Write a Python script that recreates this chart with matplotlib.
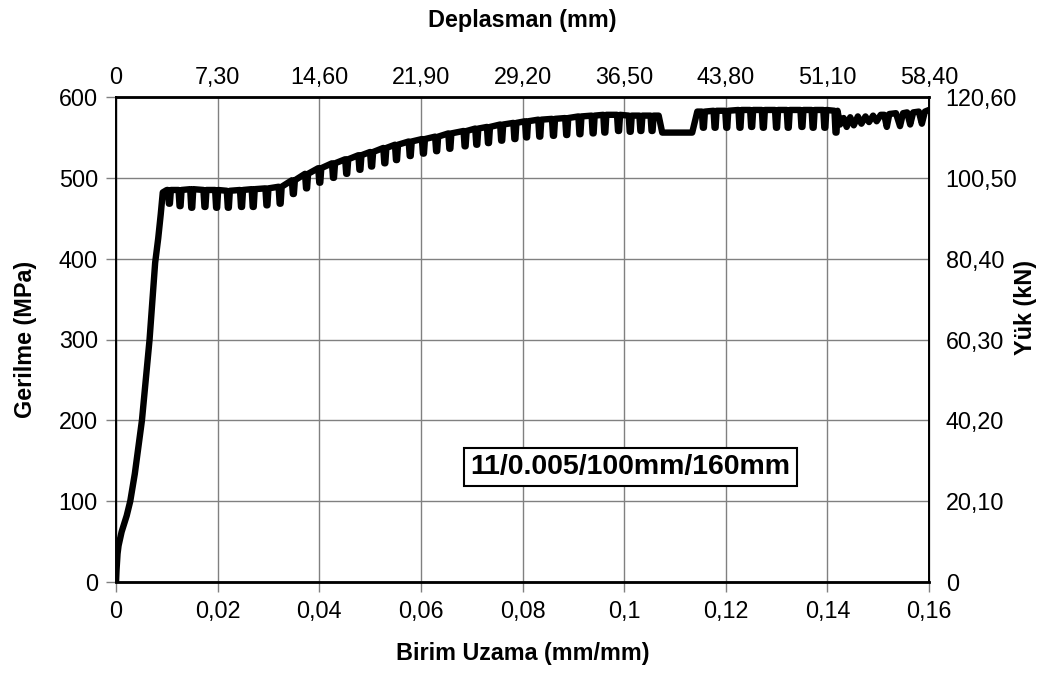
import numpy as np
import matplotlib
matplotlib.use('Agg')
import matplotlib.pyplot as plt

plt.rcParams['font.family'] = ['Liberation Sans', 'DejaVu Sans']

# Elastik bölge (birim uzama, gerilme MPa)
elastik_uzama = [0.0, 0.0001, 0.0003, 0.0005, 0.0011, 0.0021, 0.0028, 0.0037,
                 0.0051, 0.0066, 0.0077, 0.0083, 0.0088, 0.0092, 0.0100]
elastik_gerilme = [0, 15, 35, 45, 62, 82, 100, 134, 200, 300, 395, 425, 455, 482, 485]

# Tırtıklı bölge 1: tırtık yeri, tepe ve dip gerilmesi
tirtik_uzama_1 = [0.0105, 0.0126, 0.0149, 0.0175, 0.0198, 0.0221, 0.0247, 0.0270,
                  0.0297, 0.0323, 0.0349, 0.0375, 0.0401, 0.0428, 0.0454, 0.0480,
                  0.0503, 0.0529, 0.0552, 0.0579, 0.0605, 0.0631, 0.0657, 0.0687,
                  0.0710, 0.0733, 0.0759, 0.0785, 0.0808, 0.0834, 0.0861, 0.0887,
                  0.0913, 0.0939, 0.0962, 0.0989, 0.1012, 0.1033, 0.1055]
tirtik_tepe_1 = [485, 485, 486, 485, 485, 484, 485, 486,
                 487, 489, 497, 505, 512, 518, 523, 528,
                 532, 537, 541, 545, 548, 551, 555, 558,
                 561, 563, 566, 568, 570, 572, 573, 574,
                 576, 577, 578, 578, 577, 577, 577]
tirtik_dip_1 = [468, 465, 463, 464, 463, 463, 464, 464,
                466, 468, 480, 487, 494, 500, 505, 510,
                514, 518, 522, 527, 530, 533, 536, 539,
                541, 543, 546, 548, 550, 551, 552, 553,
                554, 555, 556, 558, 557, 558, 558]

# Düz bölge
duz_uzama = [0.1068, 0.1075, 0.1134, 0.1144]
duz_gerilme = [577, 556, 556, 582]

# Tırtıklı bölge 2
tirtik_uzama_2 = [0.1156, 0.1179, 0.1202, 0.1228, 0.1251, 0.1274, 0.1300,
                  0.1323, 0.1350, 0.1372, 0.1395, 0.1417]
tirtik_tepe_2 = [582, 583, 583, 584, 584, 584, 584, 584, 584, 584, 584, 583]
tirtik_dip_2 = [562, 562, 562, 562, 563, 562, 562, 562, 563, 562, 562, 556]

# Son bölge
son_uzama = [0.1425, 0.1432, 0.1438, 0.1445, 0.1452, 0.1460, 0.1467, 0.1475,
             0.1482, 0.1490, 0.1497, 0.1505, 0.1512, 0.1517, 0.1522, 0.1535,
             0.1543, 0.1549, 0.1557, 0.1563, 0.1569, 0.1580, 0.1586, 0.1592, 0.1600]
son_gerilme = [566, 574, 563, 575, 565, 576, 567, 576, 569, 577, 570, 578,
               578, 563, 579, 580, 564, 580, 581, 566, 581, 582, 567, 582, 584]

x_ticks = [0, 0.02, 0.04, 0.06, 0.08, 0.10, 0.12, 0.14, 0.16]
x_etiket = ['0', '0,02', '0,04', '0,06', '0,08', '0,1', '0,12', '0,14', '0,16']
y_ticks = [0, 100, 200, 300, 400, 500, 600]
ust_etiket = ['0', '7,30', '14,60', '21,90', '29,20', '36,50', '43,80', '51,10', '58,40']
sag_etiket = ['0', '20,10', '40,20', '60,30', '80,40', '100,50', '120,60']


def tirtik_yolu(uzama, tepe, dip, w=0.0003):
    # her tırtık: tepeden inip düz bir dipten tekrar tepeye
    xs, ys = [], []
    for u, t, d in zip(uzama, tepe, dip):
        xs += [u - w, u - w / 3, u + w / 3, u + w]
        ys += [t, d, d, t]
    return xs, ys


x1, y1 = tirtik_yolu(tirtik_uzama_1, tirtik_tepe_1, tirtik_dip_1)
x2, y2 = tirtik_yolu(tirtik_uzama_2, tirtik_tepe_2, tirtik_dip_2)
uzama = elastik_uzama + x1 + duz_uzama + x2 + son_uzama
gerilme = elastik_gerilme + y1 + duz_gerilme + y2 + son_gerilme

fig = plt.figure(figsize=(10.51, 6.79), dpi=100)
ax = fig.add_axes([0.1104, 0.1429, 0.7735, 0.7142])

ax.plot(uzama, gerilme, color='black', lw=4.6,
        solid_joinstyle='round', solid_capstyle='round', zorder=3)

fs = 16.8
ax.set_xlim(0, 0.16)
ax.set_ylim(0, 600)
ax.set_xticks(x_ticks)
ax.set_xticklabels(x_etiket)
ax.set_yticks(y_ticks)
ax.grid(True, color='#808080', lw=1.0)
ax.tick_params(axis='both', labelsize=fs, length=7, width=1, color='#808080',
               direction='out', pad=6)
for s in ax.spines.values():
    s.set_color('black')
    s.set_linewidth(1.4)
ax.spines['bottom'].set_linewidth(2)
ax.spines['top'].set_linewidth(2)

ax.set_xlabel('Birim Uzama (mm/mm)', fontsize=fs, fontweight='bold', labelpad=14)
ax.set_ylabel('Gerilme (MPa)', fontsize=fs, fontweight='bold', labelpad=16)

# Üst eksen: deplasman
axu = ax.twiny()
axu.set_xlim(0, 0.16)
axu.set_xticks(x_ticks)
axu.set_xticklabels(ust_etiket)
axu.tick_params(axis='x', labelsize=fs, length=0, pad=6)
axu.set_xlabel('Deplasman (mm)', fontsize=fs, fontweight='bold', labelpad=28)

# Sağ eksen: yük
axs = ax.twinx()
axs.set_ylim(0, 600)
axs.set_yticks(y_ticks)
axs.set_yticklabels(sag_etiket)
axs.tick_params(axis='y', labelsize=fs, length=0, pad=12)
axs.set_ylabel('Yük (kN)', fontsize=fs, fontweight='bold')
axs.yaxis.set_label_coords(1.105, 0.565)

ax.text(0.633, 0.237, '11/0.005/100mm/160mm', transform=ax.transAxes,
        fontsize=20.5, fontweight='bold', ha='center', va='center', zorder=5,
        bbox=dict(boxstyle='square,pad=0.22', facecolor='white', edgecolor='black', lw=1.5))

fig.savefig('out.png', dpi=100)
